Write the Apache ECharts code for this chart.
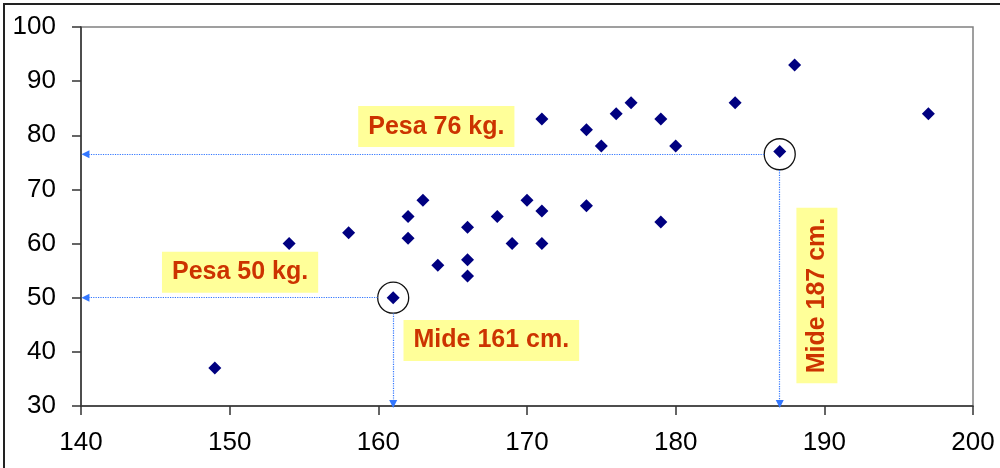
<!DOCTYPE html>
<html><head><meta charset="utf-8">
<script src="https://cdn.jsdelivr.net/npm/echarts@6/dist/echarts.min.js"></script>
<style>html,body{margin:0;padding:0;background:#fff}#c{width:1000px;height:468px}</style>
</head><body><div id="c"></div>
<script>
// Height (cm) and weight (kg) pairs
var heights = [149,154,158,162,162,163,164,166,166,166,161,168,169,170,171,171,171,174,174,175,176,177,179,179,180,184,187,188,197];
var weights = [37,60,62,65,61,68,56,63,57,54,50,65,60,68,66,60,83,81,67,78,84,86,83,64,78,86,77,93,84];
// Highlighted persons (circle centres)
var highlightX = [161, 187];
var highlightY = [50, 76.5];
// Annotation texts and their anchor positions (data units)
var noteTexts = ['Pesa 76 kg.', 'Pesa 50 kg.', 'Mide 161 cm.', 'Mide 187 cm.'];
var noteX = [163.9, 150.7, 167.6, 189.5];
var noteY = [81.6, 54.7, 42.1, 50.4];
var noteRotate = [0, 0, 0, 90];
// Axis ranges
var xTicks = [140, 200, 10];
var yTicks = [30, 100, 10];

var pts = heights.map(function(h, i){ return [h, weights[i]]; });
var circles = highlightX.map(function(x, i){ return [x, highlightY[i]]; });
var notes = noteTexts.map(function(t, i){
  return {value:[noteX[i], noteY[i]], label:{formatter:t, rotate:noteRotate[i]}};
});
var arrowLines = [];
highlightX.forEach(function(x, i){
  var y = highlightY[i];
  arrowLines.push([{coord:[x - 1.05, y]}, {coord:[xTicks[0] + 0.3, y]}]);
  arrowLines.push([{coord:[x, y - 2.9]}, {coord:[x, yTicks[0] + 0.35]}]);
});

var chart = echarts.init(document.getElementById('c'));
chart.setOption({
  animation:false,
  backgroundColor:'#fff',
  graphic:[{type:'rect', shape:{x:4, y:4, width:1010, height:480}, style:{fill:'none', stroke:'#222', lineWidth:2}, silent:true, z:-10}],
  grid:{left:81, top:27, right:27, bottom:62, show:true, borderColor:'#808080', borderWidth:1.5, backgroundColor:'#fff'},
  xAxis:{type:'value', min:xTicks[0], max:xTicks[1], interval:xTicks[2],
    axisLine:{onZero:false, lineStyle:{color:'#333', width:1.5}},
    axisTick:{show:true, length:9, lineStyle:{color:'#333', width:1.5}},
    axisLabel:{color:'#000', fontFamily:'Liberation Sans', fontSize:26, margin:24},
    splitLine:{show:false}},
  yAxis:{type:'value', min:yTicks[0], max:yTicks[1], interval:yTicks[2],
    axisLine:{show:true, onZero:false, lineStyle:{color:'#333', width:1.5}},
    axisTick:{show:true, length:9, lineStyle:{color:'#333', width:1.5}},
    axisLabel:{color:'#000', fontFamily:'Liberation Sans', fontSize:26, margin:25},
    splitLine:{show:false}},
  series:[
    {type:'scatter', data:pts, symbol:'diamond', symbolSize:13, itemStyle:{color:'#000080', opacity:1}, z:5,
     markLine:{silent:true, symbol:['none','triangle'], symbolSize:[8,8], label:{show:false},
       lineStyle:{color:'#3377ff', type:'dotted', width:1.2, opacity:1}, data:arrowLines}},
    {type:'scatter', data:circles, symbol:'circle', symbolSize:31, z:4,
     itemStyle:{color:'rgba(0,0,0,0)', borderColor:'#111', borderWidth:1.3, opacity:1}},
    {type:'scatter', data:notes, symbolSize:0, z:6, itemStyle:{opacity:1},
     label:{show:true, position:'inside', color:'#cc3300', fontFamily:'Liberation Sans', fontWeight:'bold', fontSize:25,
       backgroundColor:'#ffff99', padding:[8,10]}}
  ]
});
</script></body></html>
